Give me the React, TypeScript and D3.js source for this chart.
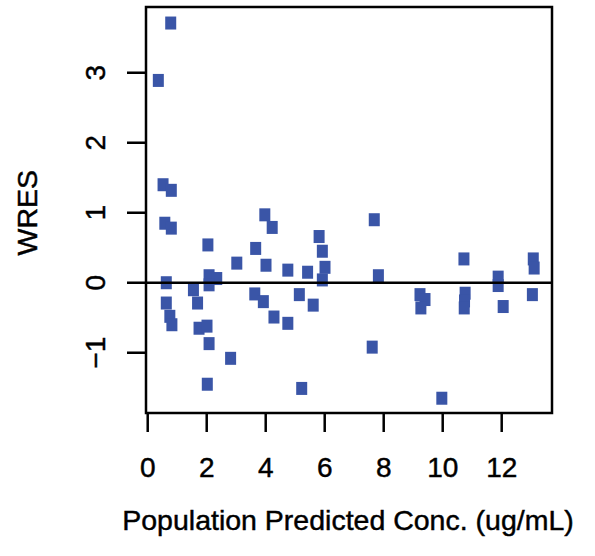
import React from "react";
import * as d3 from "d3";

const predConc = [
  0.78, 0.36, 0.52, 0.80, 0.58, 0.80, 2.04, 3.97, 4.22, 3.66, 4.01, 3.02, 2.08, 2.34, 2.08,
  0.63, 1.55, 1.69, 0.63, 0.75, 0.82, 1.74, 2.01, 2.08, 2.81, 2.02, 3.63, 3.92, 4.28, 4.75,
  5.42, 5.81, 5.92, 6.01, 5.92, 7.68, 7.82, 4.75, 5.14, 5.61, 7.61, 5.22, 9.23, 9.40, 9.26,
  10.72, 10.76, 10.74, 10.73, 11.88, 11.88, 12.05, 13.07, 13.10, 13.04, 9.97,
];
const wres = [
  3.71, 2.89, 1.40, 1.32, 0.85, 0.78, 0.54, 0.97, 0.79, 0.49, 0.25, 0.28, 0.10, 0.06, -0.03,
  0.0, -0.10, -0.29, -0.29, -0.48, -0.60, -0.65, -0.62, -0.87, -1.08, -1.45, -0.16, -0.27, -0.49, 0.18,
  0.15, 0.66, 0.45, 0.22, 0.04, 0.90, 0.10, -0.58, -0.17, -0.32, -0.92, -1.51, -0.17, -0.24, -0.36,
  0.34, -0.15, -0.26, -0.36, 0.08, -0.04, -0.34, 0.34, 0.21, -0.17, -1.65,
];
const xTicks = [0, 2, 4, 6, 8, 10, 12];
const yTicks = [-1, 0, 1, 2, 3];
const xLabel = "Population Predicted Conc. (ug/mL)";
const yLabel = "WRES";

export default function App() {
  const W = 595;
  const H = 556;
  const left = 146, right = 552, top = 7, bottom = 413;
  const x = d3.scaleLinear().domain([-0.058, 13.705]).range([left, right]);
  const y = d3.scaleLinear().domain([-1.861, 3.939]).range([bottom, top]);
  const pts = predConc.map((v, i) => ({ x: v, y: wres[i] }));
  const font = "Arial, 'Liberation Sans', Helvetica, sans-serif";
  const blue = "#3a55a7";
  const mw = 11, mh = 13;
  const textStyle = { stroke: "#000", strokeWidth: 0.45 } as React.CSSProperties;
  return (
    <div style={{ position: "absolute", left: 0, top: 0 }}>
      <svg width={W} height={H} style={{ display: "block", background: "#fff" }}>
        {pts.map((p, i) => (
          <rect key={i} x={x(p.x) - mw / 2} y={y(p.y) - mh / 2} width={mw} height={mh} fill={blue} />
        ))}
        <line x1={left} x2={right} y1={y(0)} y2={y(0)} stroke="#000" strokeWidth={2.5} />
        <rect x={left} y={top} width={right - left} height={bottom - top} fill="none" stroke="#000" strokeWidth={2.5} />
        {xTicks.map((t) => (
          <g key={"x" + t}>
            <line x1={x(t)} x2={x(t)} y1={bottom} y2={bottom + 19} stroke="#000" strokeWidth={2.5} />
            <text x={x(t)} y={477} textAnchor="middle" fontFamily={font} fontSize={28} fill="#000" style={textStyle}>{t}</text>
          </g>
        ))}
        {yTicks.map((t) => (
          <g key={"y" + t}>
            <line x1={left} x2={left - 19} y1={y(t)} y2={y(t)} stroke="#000" strokeWidth={2.5} />
            <text transform={`translate(105,${y(t)}) rotate(-90)`} textAnchor="middle" fontFamily={font} fontSize={28} fill="#000" style={textStyle}>
              {t < 0 ? "\u2212" + Math.abs(t) : t}
            </text>
          </g>
        ))}
        <text x={348} y={530} textAnchor="middle" fontFamily={font} fontSize={28.5} fill="#000" style={textStyle}>{xLabel}</text>
        <text transform={`translate(37,${y(1)}) rotate(-90)`} textAnchor="middle" fontFamily={font} fontSize={28.5} fill="#000" style={textStyle}>{yLabel}</text>
      </svg>
    </div>
  );
}
